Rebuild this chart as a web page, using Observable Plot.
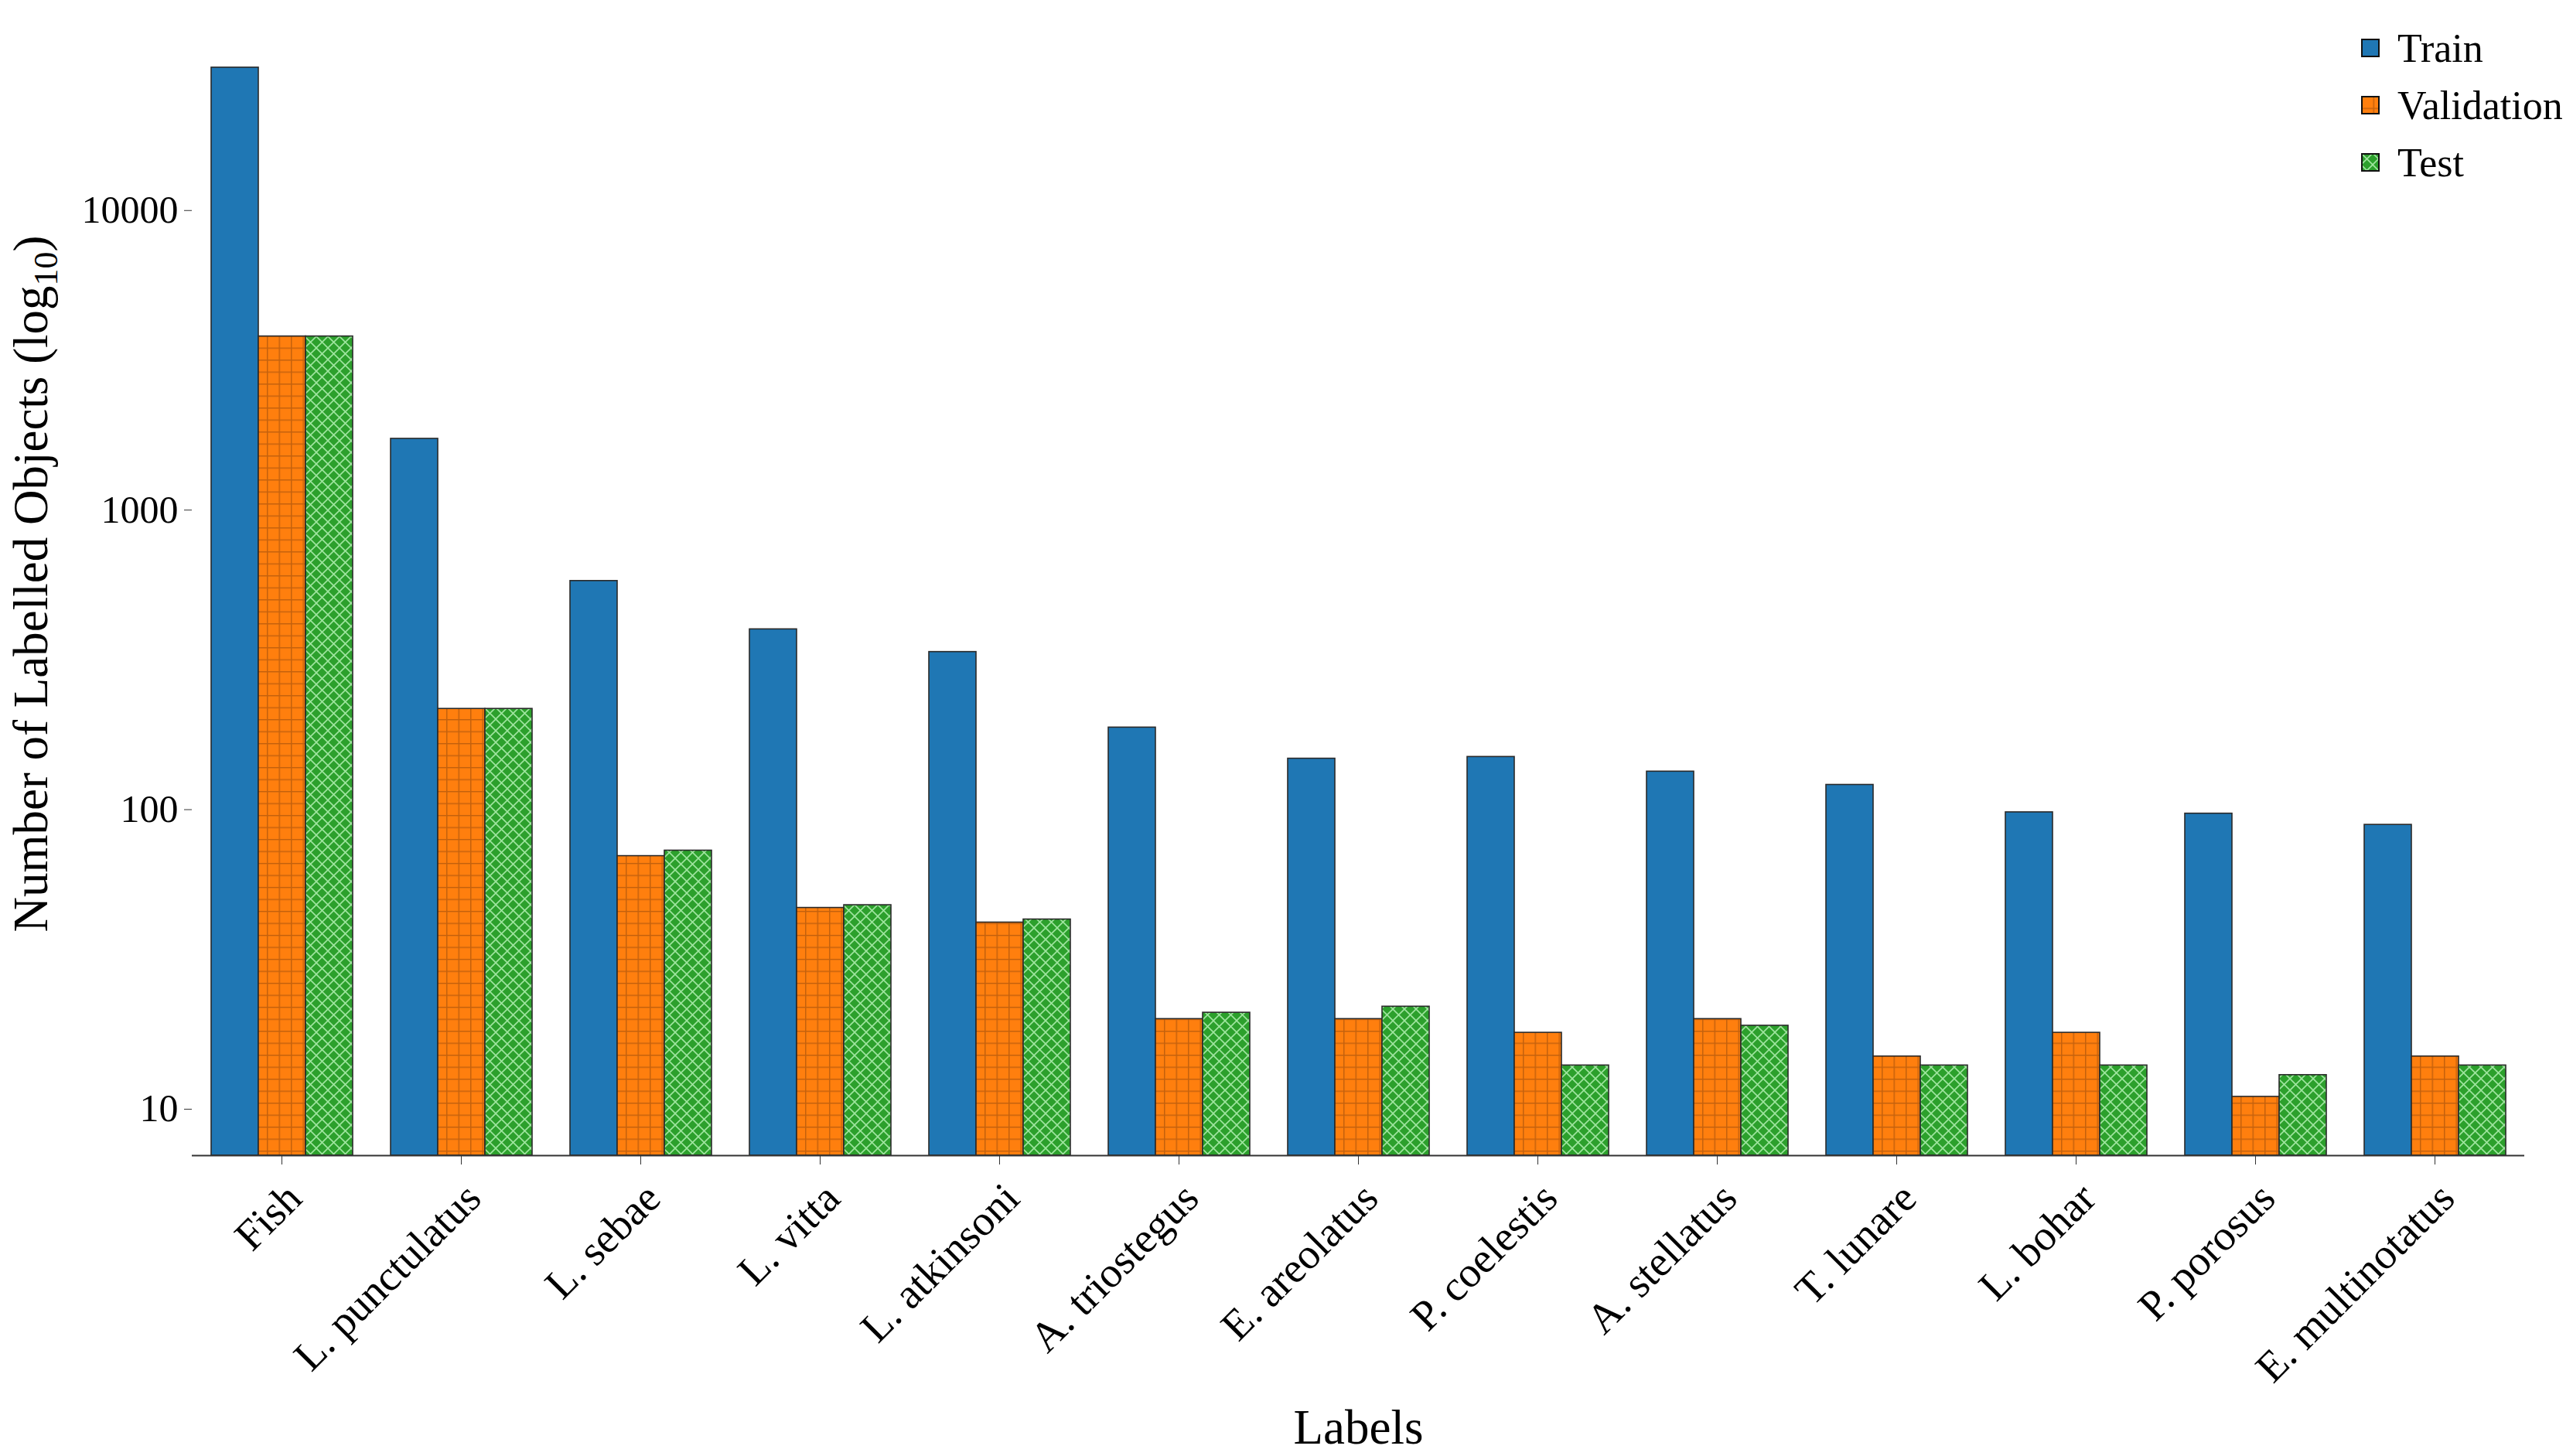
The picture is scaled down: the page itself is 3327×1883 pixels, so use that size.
<!DOCTYPE html>
<html><head><meta charset="utf-8">
<script src="https://cdn.jsdelivr.net/npm/d3@7"></script>
<script src="https://cdn.jsdelivr.net/npm/@observablehq/plot@0.6"></script>
<style>
html,body{margin:0;padding:0;background:#fff;}
#wrap{position:relative;width:3327px;height:1883px;font-family:"Liberation Serif","Times New Roman",serif;}
#wrap svg text{font-family:"Liberation Serif","Times New Roman",serif;}
#legend{position:absolute;left:3053px;top:25px;}
.item{display:flex;align-items:center;height:74px;font-size:52px;color:#000;}
.item svg{margin-right:23px;display:block;}
</style></head><body><div id="wrap"></div>
<script>
const categories = ["Fish","L. punctulatus","L. sebae","L. vitta","L. atkinsoni","A. triostegus","E. areolatus","P. coelestis","A. stellatus","T. lunare","L. bohar","P. porosus","E. multinotatus"];
const series = ["Train","Validation","Test"];
const train = [30000,1730,580,400,336,188,148,150,134,121,98,97,89];
const validation = [3800,217,70,47,42,20,20,18,20,15,18,11,15];
const test = [3800,217,73,48,43,21,22,14,19,14,14,13,14];
const yTicks = [10,100,1000,10000];
const fills = ["#1f77b4","url(#valPat)","url(#testPat)"];
const FONT = "'Liberation Serif', 'Times New Roman', serif";

const rows = [];
categories.forEach((c, i) => {
  rows.push({cat: c, series: "Train", value: train[i]});
  rows.push({cat: c, series: "Validation", value: validation[i]});
  rows.push({cat: c, series: "Test", value: test[i]});
});

const chart = Plot.plot({
  width: 3327, height: 1883,
  marginLeft: 244, marginRight: 59, marginTop: 15, marginBottom: 389,
  style: {fontFamily: FONT, fontSize: "50px", background: "white", color: "black"},
  fx: {domain: categories, padding: 0},
  x: {domain: series, paddingInner: 0, paddingOuter: 0.375, axis: null},
  y: {type: "log", domain: [7, 46000]},
  color: {domain: series, range: fills},
  marks: [
    Plot.barY(rows, {fx: "cat", x: "series", y1: 7, y2: "value", fill: "series", stroke: "#2a2a2a", strokeWidth: 1.6}),
    Plot.ruleY([7], {stroke: "#333", strokeWidth: 2}),
    Plot.axisY({ticks: yTicks, tickFormat: d => String(d), tickSize: 10, tickPadding: 8, fontSize: 50, fontFamily: FONT, line: true, stroke: "#333",
      label: "Number of Labelled Objects (log10)", labelAnchor: "center", labelArrow: "none", labelOffset: 232}),
    Plot.axisFx({anchor: "bottom", tickRotate: -45, tickSize: 12, tickPadding: 16, fontSize: 55, fontFamily: FONT, stroke: "#333",
      label: "Labels", labelAnchor: "center", labelArrow: "none", labelOffset: 372})
  ]
});

const NS = "http://www.w3.org/2000/svg";
function el(name, attrs, parent) {
  const e = document.createElementNS(NS, name);
  for (const k in attrs) e.setAttribute(k, attrs[k]);
  if (parent) parent.appendChild(e);
  return e;
}
const defs = el("defs", {});
const vp = el("pattern", {id: "valPat", patternUnits: "userSpaceOnUse", width: 15.5, height: 15.5}, defs);
el("rect", {width: 15.5, height: 15.5, fill: "#ff7f0e"}, vp);
el("path", {d: "M0,0.75H15.5M0.75,0V15.5", stroke: "#b0560c", "stroke-width": 1.5, "stroke-opacity": 0.75, fill: "none"}, vp);
const tp = el("pattern", {id: "testPat", patternUnits: "userSpaceOnUse", width: 15, height: 15}, defs);
el("rect", {width: 15, height: 15, fill: "#2ca02c"}, tp);
el("path", {d: "M-1,-1L16,16M16,-1L-1,16", stroke: "#9fe59f", "stroke-width": 1.6, fill: "none"}, tp);
chart.insertBefore(defs, chart.firstChild);

const s = d3.select(chart);
s.selectAll('g[aria-label="y-axis label"] text, g[aria-label="fx-axis label"] text').attr("font-size", 63);
s.selectAll('g[aria-label="fx-axis tick label"]').each(function() {
  const t = this.getAttribute("transform") || "";
  this.setAttribute("transform", (t + " translate(16,18)").trim());
});
s.selectAll("text").each(function() {
  if (this.textContent === "Number of Labelled Objects (log10)") {
    this.textContent = "";
    el("tspan", {}, this).textContent = "Number of Labelled Objects (log";
    el("tspan", {dy: 13, "font-size": 44}, this).textContent = "10";
    el("tspan", {dy: -13, "font-size": 63}, this).textContent = ")";
  }
});

const wrap = document.getElementById("wrap");
wrap.appendChild(chart);
const legend = document.createElement("div");
legend.id = "legend";
series.forEach((name, i) => {
  const item = document.createElement("div");
  item.className = "item";
  const sw = el("svg", {width: 24, height: 24});
  el("rect", {x: 1, y: 1, width: 22, height: 22, fill: fills[i], stroke: "#111", "stroke-width": 2}, sw);
  item.appendChild(sw);
  const t = document.createElement("span");
  t.textContent = name;
  item.appendChild(t);
  legend.appendChild(item);
});
wrap.appendChild(legend);
</script></body></html>
